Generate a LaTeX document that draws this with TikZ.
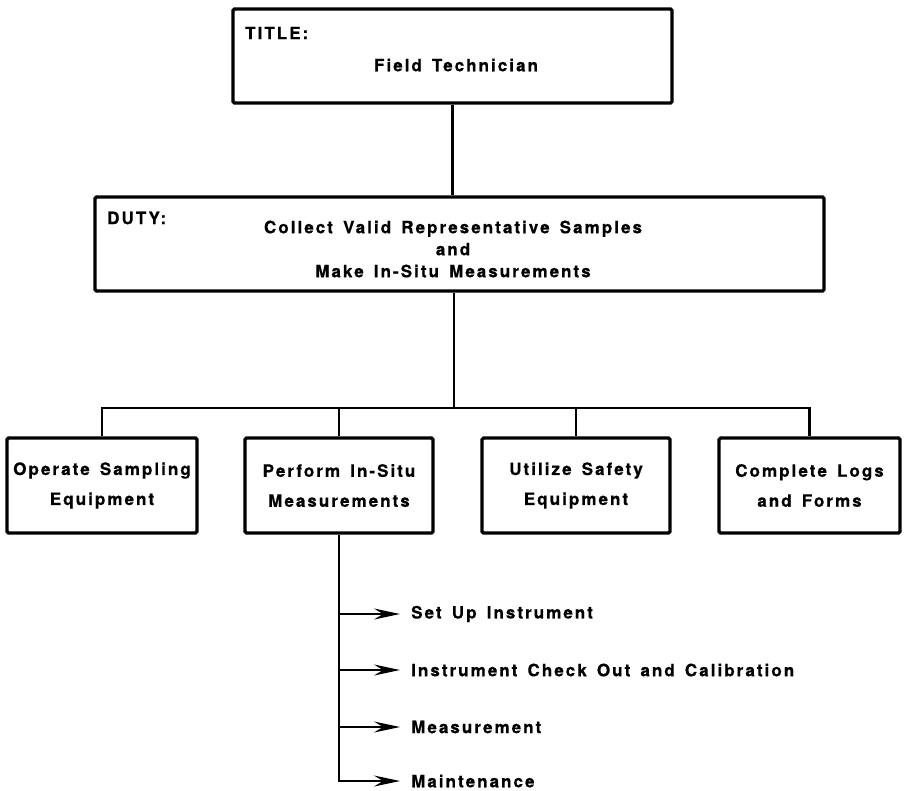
\documentclass[tikz,border=0pt]{standalone}
\usepackage{fontspec}
\setmainfont{TeX Gyre Heros}[LetterSpace=12,WordSpace=1.5,BoldFeatures={FakeBold=0.6}]
\usetikzlibrary{arrows.meta}

\begin{document}
\begin{tikzpicture}[x=1pt,y=-1pt,
    box/.style={draw,line width=3.2pt,rounded corners=1.5pt,inner sep=0pt,align=center,
        font=\bfseries\fontsize{17}{30}\selectfont},
    txt/.style={inner sep=0pt,align=center,font=\bfseries\fontsize{17}{22}\selectfont},
    conn/.style={line width=2.2pt},
    item/.style={anchor=west,inner xsep=11pt,inner ysep=0pt,font=\bfseries\fontsize{17}{20}\selectfont},
    tip/.style={-{Stealth[length=26pt,width=11pt,inset=9pt]},line width=1.6pt}]
    \useasboundingbox (0,0) rectangle (904,790);
    % title and duty
    \node [box,minimum width=439pt,minimum height=94pt] (title) at (452.5,56) {};
    \node [txt,anchor=west] (titlelbl) at (245,33) {TITLE:};
    \node [txt] (titletxt) at (456,65) {Field Technician};
    \node [box,minimum width=729pt,minimum height=94pt] (duty) at (459.5,244) {};
    \node [txt,anchor=west] (dutylbl) at (107,218) {DUTY:};
    \node [txt] (dutytxt) at (453,249) {Collect Valid Representative Samples\\ and\\ Make In-Situ Measurements};
    % tasks
    \node [box,minimum width=190pt,minimum height=95pt] (sampling) at (102,485.5) {Operate Sampling\\ Equipment};
    \node [box,minimum width=188pt,minimum height=95pt] (insitu) at (339,485.5) {Perform In-Situ\\ Measurements};
    \node [box,minimum width=188pt,minimum height=95pt] (safety) at (576,485.5) {Utilize Safety\\ Equipment};
    \node [box,minimum width=181pt,minimum height=95pt] (logs) at (809.5,485.5) {Complete Logs\\ and Forms};
    % steps
    \node [item] (setup) at (400,614) {Set Up Instrument};
    \node [item] (check) at (400,670) {Instrument Check Out and Calibration};
    \node [item] (meas) at (400,727) {Measurement};
    \node [item] (maint) at (400,781) {Maintenance};
    % connectors
    \coordinate (bus) at (454,408);
    \draw [conn] (title.south) -- (title.south |- duty.north);
    \draw [conn] (bus |- duty.south) -- (bus);
    \draw [conn] (sampling.north) |- (bus) -| (logs.north);
    \draw [conn] (insitu.north) -- (insitu.north |- bus);
    \draw [conn] (safety.north) -- (safety.north |- bus);
    \draw [tip] (insitu.south) |- (maint.west);
    \draw [tip] (insitu.south |- setup.west) -- (setup.west);
    \draw [tip] (insitu.south |- check.west) -- (check.west);
    \draw [tip] (insitu.south |- meas.west) -- (meas.west);
\end{tikzpicture}
\end{document}
